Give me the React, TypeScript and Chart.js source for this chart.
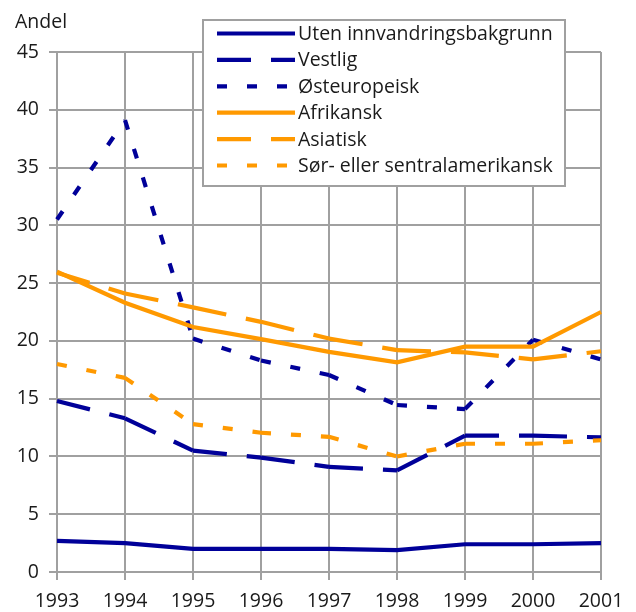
import { useEffect, useRef } from 'react';
import { Chart, registerables } from 'chart.js';

Chart.register(...registerables);

const years = ['1993', '1994', '1995', '1996', '1997', '1998', '1999', '2000', '2001'];
const utenInnvandring = [2.7, 2.5, 2.0, 2.0, 2.0, 1.9, 2.4, 2.4, 2.5];
const vestlig = [14.8, 13.3, 10.5, 9.9, 9.1, 8.8, 11.8, 11.8, 11.65];
const osteuropeisk = [30.5, 39.1, 20.2, 18.3, 17.05, 14.45, 14.1, 20.1, 18.4];
const afrikansk = [26.0, 23.3, 21.2, 20.15, 19.05, 18.15, 19.5, 19.5, 22.5];
const asiatisk = [25.9, 24.1, 22.9, 21.65, 20.2, 19.2, 19.0, 18.4, 19.1];
const sorSentral = [18.0, 16.8, 12.8, 12.05, 11.7, 10.0, 11.1, 11.1, 11.4];
const seriesNames = [
  'Uten innvandringsbakgrunn',
  'Vestlig',
  'Østeuropeisk',
  'Afrikansk',
  'Asiatisk',
  'Sør- eller sentralamerikansk',
];
const yTitle = 'Andel';

const BLUE = '#000099';
const ORANGE = '#ff9900';
const GRID = '#a0a0a0';
const TEXT = '#1a1a1a';
const FONT = '"Open Sans", "DejaVu Sans", sans-serif';
const LONG_DASH = [34, 20];
const SHORT_DASH = [10, 20];

export default function App() {
  const ref = useRef<HTMLCanvasElement>(null);

  useEffect(() => {
    document.body.style.margin = '0';
    const canvas = ref.current;
    if (!canvas) return;

    const resetDash = {
      borderDashOffset: (c: any) => (c.p0DataIndex % 2 ? 0.001 : 0),
    };

    const seriesData = [utenInnvandring, vestlig, osteuropeisk, afrikansk, asiatisk, sorSentral];
    const colors = [BLUE, BLUE, BLUE, ORANGE, ORANGE, ORANGE];
    const dashes = [[], LONG_DASH, SHORT_DASH, [], LONG_DASH, SHORT_DASH];

    const datasets = seriesData.map((data, i) => ({
      label: seriesNames[i],
      data,
      borderColor: colors[i],
      backgroundColor: colors[i],
      borderWidth: 4.2,
      borderDash: dashes[i],
      borderCapStyle: 'butt' as const,
      borderJoinStyle: 'miter' as const,
      pointRadius: 0,
      pointHoverRadius: 0,
      tension: 0,
      fill: false,
      order: seriesData.length - i,
      ...(dashes[i].length ? { segment: resetDash } : {}),
    }));

    const customLegend = {
      id: 'customLegend',
      afterDraw(chart: any) {
        const ctx = chart.ctx as CanvasRenderingContext2D;
        ctx.save();
        // y-axis title
        ctx.font = `19.5px ${FONT}`;
        ctx.fillStyle = TEXT;
        ctx.textAlign = 'left';
        ctx.textBaseline = 'alphabetic';
        ctx.fillText(yTitle, 15, 28);

        // legend box
        const bx = 203, by = 20, bw = 362, bh = 166;
        ctx.fillStyle = '#ffffff';
        ctx.fillRect(bx, by, bw, bh);
        ctx.strokeStyle = GRID;
        ctx.lineWidth = 2;
        ctx.setLineDash([]);
        ctx.strokeRect(bx, by, bw, bh);

        const rowY0 = 33.5;
        const rowStep = 26.4;
        for (let i = 0; i < seriesNames.length; i++) {
          const y = rowY0 + i * rowStep;
          ctx.strokeStyle = colors[i];
          ctx.lineWidth = 4.2;
          ctx.lineCap = 'butt';
          ctx.setLineDash(dashes[i]);
          ctx.beginPath();
          ctx.moveTo(217, y);
          ctx.lineTo(295, y);
          ctx.stroke();
          ctx.setLineDash([]);
          ctx.fillStyle = TEXT;
          ctx.font = `19.5px ${FONT}`;
          ctx.textBaseline = 'middle';
          ctx.fillText(seriesNames[i], 298, y + 1);
        }
        ctx.restore();
      },
    };

    const chart = new Chart(canvas, {
      type: 'line',
      data: { labels: years, datasets },
      options: {
        animation: false,
        responsive: true,
        maintainAspectRatio: false,
        layout: { padding: { top: 52, right: 35, left: 0, bottom: 0 } },
        plugins: {
          legend: { display: false },
          tooltip: { enabled: false },
        },
        scales: {
          x: {
            type: 'category',
            offset: false,
            grid: {
              color: GRID,
              lineWidth: 2,
              tickLength: 8,
              drawTicks: true,
              offset: false,
            },
            border: { color: GRID, width: 2 },
            ticks: {
              color: TEXT,
              font: { family: FONT, size: 19.5 },
              padding: 10,
              maxRotation: 0,
              autoSkip: false,
            },
            afterFit(scale: any) {
              scale.height = 40;
            },
          },
          y: {
            min: 0,
            max: 45,
            grid: {
              color: GRID,
              lineWidth: 2,
              tickLength: 8,
              drawTicks: true,
            },
            border: { color: GRID, width: 2 },
            ticks: {
              stepSize: 5,
              color: TEXT,
              font: { family: FONT, size: 19.5 },
              padding: 10,
            },
            afterFit(scale: any) {
              scale.width = 57;
            },
          },
        },
      },
      plugins: [customLegend],
    });

    return () => chart.destroy();
  }, []);

  return (
    <div style={{ position: 'relative', width: 636, height: 612 }}>
      <canvas ref={ref} />
    </div>
  );
}
